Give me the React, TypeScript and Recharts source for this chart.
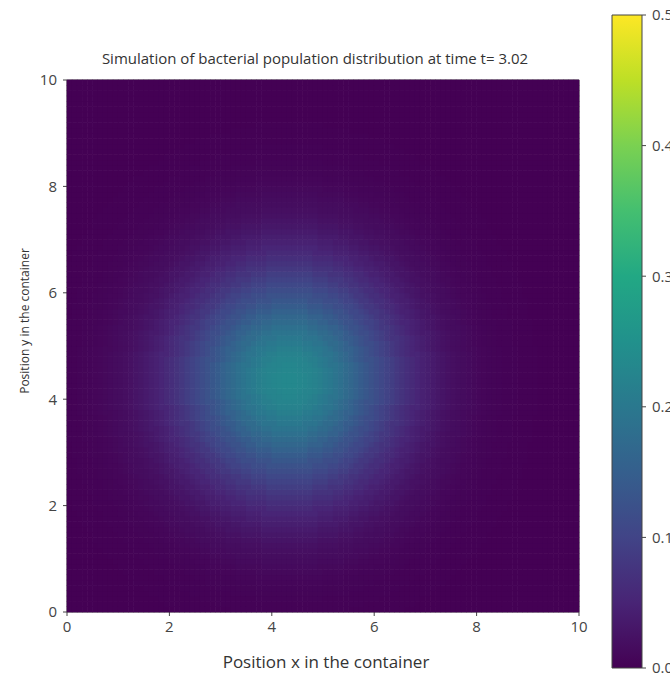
import { ScatterChart, Scatter, XAxis, YAxis, ReferenceLine, BarChart, Bar } from "recharts"

const xTicks = [0, 2, 4, 6, 8, 10]
const yTicks = [0, 2, 4, 6, 8, 10]
const barTicks = [0, 0.1, 0.2, 0.3, 0.4, 0.5]

const radiusStep = 0.1
const density = [
    0.232, 0.2315, 0.23, 0.227, 0.223, 0.219, 0.213, 0.206, 0.199, 0.191,
    0.183, 0.174, 0.165, 0.155, 0.145, 0.136, 0.126, 0.116, 0.107, 0.098,
    0.09, 0.081, 0.073, 0.066, 0.059, 0.052, 0.046, 0.041, 0.036, 0.031,
    0.027, 0.023, 0.02, 0.017, 0.015, 0.013, 0.011, 0.009, 0.0075, 0.006,
    0.005, 0.004, 0.0035, 0.003, 0.0023, 0.002, 0.0015, 0.0012, 0.001, 0.0005,
    0,
]
const peak = { x: 4.35, y: 4.35 }
const vMax = 0.5
const colorbar = [{ name: "cb", top: vMax }]

const gridStep = 0.1
const cells: { x: number; y: number; v: number }[] = []
for (let i = 0; i < 100; i++) {
    for (let j = 0; j < 100; j++) {
        const x = (i + 0.5) * gridStep
        const y = (j + 0.5) * gridStep
        const r = Math.hypot(x - peak.x, y - peak.y)
        const k = Math.min(density.length - 1, Math.round(r / radiusStep))
        cells.push({ x, y, v: density[k] })
    }
}

const VIRIDIS = ["#440154", "#482475", "#414487", "#355f8d", "#2a788e", "#21918c", "#22a884", "#44bf70", "#7ad151", "#bddf26", "#fde725"]

function viridis(t: number) {
    const s = Math.max(0, Math.min(1, t)) * (VIRIDIS.length - 1)
    const i = Math.min(VIRIDIS.length - 2, Math.floor(s))
    const f = s - i
    const a = VIRIDIS[i], b = VIRIDIS[i + 1]
    const ch = (h: string, o: number) => parseInt(h.slice(o, o + 2), 16)
    const mix = (o: number) => Math.round(ch(a, o) + (ch(b, o) - ch(a, o)) * f)
    return `rgb(${mix(1)},${mix(3)},${mix(5)})`
}

const CW = 512 / 100 + 0.6
const CH = 532 / 100 + 0.6

const HeatCell = (props: any) => {
    const { cx, cy, payload } = props
    return <rect x={cx - CW / 2} y={cy - CH / 2} width={CW} height={CH} fill={viridis(payload.v / vMax)} />
}

const tickStyle = { fill: "#444", fontSize: 15, fontFamily: "Open Sans" }

export default function App() {
    return (
        <div style={{ position: "fixed", left: 0, top: 0, width: 670, height: 674, overflow: "hidden", background: "#fff", fontFamily: "Open Sans", color: "#333" }}>
            <div style={{ position: "absolute", left: 0, top: 49, width: 630, textAlign: "center", fontSize: 15, lineHeight: "18px" }}>
                Simulation of bacterial population distribution at time t= 3.02
            </div>
            <div style={{ position: "absolute", left: 0, top: 0 }}>
                <ScatterChart width={670} height={674} margin={{ top: 80, right: 91, bottom: 32, left: 27 }}>
                    <XAxis type="number" dataKey="x" domain={[0, 10]} ticks={xTicks} height={30}
                        tick={tickStyle} tickSize={4} tickMargin={5} stroke="#444" />
                    <YAxis type="number" dataKey="y" domain={[0, 10]} ticks={yTicks} width={40}
                        tick={tickStyle} tickSize={4} tickMargin={6} stroke="#444" />
                    <Scatter data={cells} shape={HeatCell} isAnimationActive={false} />
                    <ReferenceLine y={10} stroke="#444" />
                    <ReferenceLine x={10} stroke="#444" />
                </ScatterChart>
            </div>
            <div style={{ position: "absolute", left: 600, top: 0 }}>
                <BarChart width={80} height={674} data={colorbar} margin={{ top: 15, right: 0, bottom: 6, left: 12 }} barCategoryGap={0}>
                    <defs>
                        <linearGradient id="viridisBar" x1="0" y1="1" x2="0" y2="0">
                            {VIRIDIS.map((c, i) => (
                                <stop key={i} offset={i / (VIRIDIS.length - 1)} stopColor={c} />
                            ))}
                        </linearGradient>
                    </defs>
                    <XAxis dataKey="name" hide />
                    <YAxis orientation="right" type="number" domain={[0, vMax]} ticks={barTicks} width={38} interval={0}
                        tickFormatter={(v) => Number(v).toFixed(1)} tick={tickStyle} tickSize={4} tickMargin={6}
                        axisLine={false} stroke="#444" />
                    <Bar dataKey="top" fill="url(#viridisBar)" stroke="#444" strokeWidth={1} isAnimationActive={false} />
                </BarChart>
            </div>
            <div style={{ position: "absolute", left: 126, top: 652, width: 400, textAlign: "center", fontSize: 17, lineHeight: "20px" }}>
                Position x in the container
            </div>
            <div style={{ position: "absolute", left: -75, top: 312, width: 200, height: 18, textAlign: "center", fontSize: 12, lineHeight: "18px", transform: "rotate(-90deg)" }}>
                Position  y in the container
            </div>
        </div>
    )
}
